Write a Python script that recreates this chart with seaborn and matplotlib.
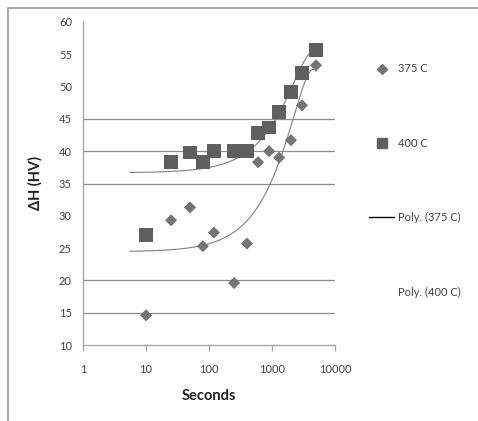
import numpy as np
import pandas as pd
import matplotlib
matplotlib.use("Agg")
import matplotlib.pyplot as plt
from matplotlib.lines import Line2D
import seaborn as sns

# ---- data ----
seconds = [10, 25, 50, 80, 120, 250, 400, 600, 900, 1300, 2000, 3000, 5000]
hv_375 = [14.6, 29.3, 31.3, 25.3, 27.4, 19.6, 25.7, 38.3, 40.0, 39.0, 41.7, 47.1, 53.3]
hv_400 = [27.0, 38.3, 39.8, 38.3, 40.0, 40.0, 40.0, 42.8, 43.7, 46.1, 49.2, 52.1, 55.7]
series_labels = ["375 C", "400 C"]
trend_labels = ["Poly. (375 C)", "Poly. (400 C)"]
poly_order = 2
y_ticks = [10, 15, 20, 25, 30, 35, 40, 45, 50, 55, 60]
grid_levels = [15, 20, 35, 40, 45]
x_ticks = [1, 10, 100, 1000, 10000]
x_ticklabels = ["1", "10", "100", "1000", "10000"]

sns.set_theme(style="white")
plt.rcParams["font.family"] = ["Lato", "DejaVu Sans"]

fig = plt.figure(figsize=(4.78, 4.21), dpi=100)
ax = fig.add_axes([83 / 478, 1 - 345 / 421, (335 - 83) / 478, (345 - 22) / 421])

# gridlines
for g in grid_levels:
    ax.axhline(g, color="#8c8c8c", lw=0.9, zorder=0)

# trendlines (polynomial fits in linear x, as in the spreadsheet)
xt = np.linspace(5.5, 5000, 2000)
for vals in (hv_375, hv_400):
    coef = np.polyfit(seconds, vals, poly_order)
    sns.lineplot(x=xt, y=np.polyval(coef, xt), ax=ax, color="#808080", lw=0.8,
                 zorder=2, legend=False)

sns.scatterplot(x=seconds, y=hv_375, marker="D", color="#747474", s=38,
                edgecolor="none", ax=ax, zorder=3)
sns.scatterplot(x=seconds, y=hv_400, marker="s", color="#5f5f5f", s=95,
                edgecolor="none", ax=ax, zorder=3)

ax.set_xscale("log")
ax.set_xlim(1, 10000)
ax.set_ylim(10, 60)
ax.set_yticks(y_ticks)
ax.set_yticklabels([str(v) for v in y_ticks])
ax.set_xticks(x_ticks)
ax.set_xticklabels(x_ticklabels)
ax.xaxis.set_minor_locator(matplotlib.ticker.NullLocator())

for side in ("top", "right"):
    ax.spines[side].set_visible(False)
for side in ("left", "bottom"):
    ax.spines[side].set_color("#a6a6a6")
    ax.spines[side].set_linewidth(1.0)

ax.tick_params(axis="x", which="major", direction="out", length=4, width=0.9,
               color="#a6a6a6", labelsize=8, labelcolor="#404040", pad=10, bottom=True)
ax.tick_params(axis="y", length=0, labelsize=8, labelcolor="#404040", pad=8)

ax.set_xlabel("Seconds", fontsize=10.5, fontweight="bold", color="#202020", labelpad=10)
ax.set_ylabel("\u0394H (HV)", fontsize=10.5, fontweight="bold", color="#202020", labelpad=12)

# legend
handles = [
    Line2D([], [], marker="D", ls="none", color="#747474", markersize=5),
    Line2D([], [], marker="s", ls="none", color="#5f5f5f", markersize=7.5),
    Line2D([], [], color="#000000", lw=1.0),
    Line2D([], [], color="white", lw=0),
]
leg = fig.legend(handles, series_labels + trend_labels, loc="upper left",
                 bbox_to_anchor=(365 / 478, 1 - 59 / 421), frameon=False,
                 fontsize=8, labelspacing=5.7, handlelength=2.2, handletextpad=0.4,
                 borderaxespad=0)
for t in leg.get_texts():
    t.set_color("#404040")

# outer chart border (top and left visible)
fig.add_artist(Line2D([8 / 478, 1], [1 - 8 / 421, 1 - 8 / 421], transform=fig.transFigure,
                      color="#9a9a9a", lw=1.2))
fig.add_artist(Line2D([8 / 478, 8 / 478], [0, 1 - 8 / 421], transform=fig.transFigure,
                      color="#9a9a9a", lw=1.2))

fig.savefig("out.png", dpi=100)
